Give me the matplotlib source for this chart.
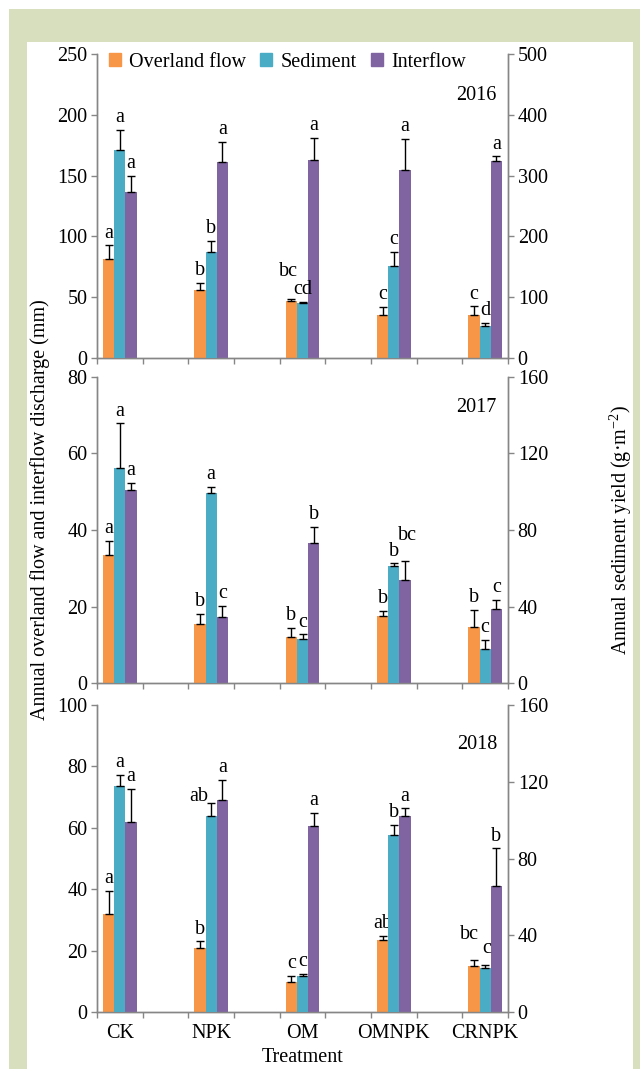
import numpy as np
from matplotlib import pyplot as plt
from matplotlib.patches import Rectangle, Patch

plt.rcParams['font.family'] = ['Liberation Serif', 'DejaVu Serif']
plt.rcParams['mathtext.fontset'] = 'custom'
plt.rcParams['mathtext.rm'] = 'Liberation Serif'
plt.rcParams['mathtext.it'] = 'Liberation Serif:italic'

treatments = ['CK', 'NPK', 'OM', 'OMNPK', 'CRNPK']
years = ['2016', '2017', '2018']

# overland flow (mm), left axis
overland = [[81.6, 55.9, 47.1, 35.6, 35.6],
            [33.4, 15.3, 11.9, 17.5, 14.6],
            [31.8, 20.9, 9.7, 23.4, 14.9]]
overland_err = [[11.0, 6.0, 1.6, 6.6, 6.9],
                [3.7, 2.7, 2.5, 1.3, 4.6],
                [7.6, 2.1, 2.1, 1.5, 2.2]]
# sediment (g m-2), right axis
sediment = [[341.7, 174.1, 90.9, 150.6, 52.6],
            [112.4, 99.4, 23.1, 61.1, 17.8],
            [117.8, 102.2, 19.0, 92.3, 22.9]]
sediment_err = [[34.0, 18.1, 1.7, 23.5, 4.9],
                [23.3, 3.0, 2.3, 1.4, 4.9],
                [5.7, 6.5, 0.7, 5.3, 1.4]]
# interflow (mm), left axis
interflow = [[136.9, 161.0, 163.2, 154.4, 161.6],
             [50.5, 17.3, 36.7, 26.9, 19.4],
             [61.9, 69.1, 60.6, 63.7, 41.0]]
interflow_err = [[12.6, 17.0, 17.5, 25.8, 4.2],
                 [1.9, 2.8, 4.1, 4.9, 2.4],
                 [10.7, 6.6, 4.2, 2.6, 12.3]]

letters_overland = [['a', 'b', 'bc', 'c', 'c'],
                    ['a', 'b', 'b', 'b', 'b'],
                    ['a', 'b', 'c', 'ab', 'bc']]
letters_sediment = [['a', 'b', 'cd', 'c', 'd'],
                    ['a', 'a', 'c', 'b', 'c'],
                    ['a', 'ab', 'c', 'b', 'c']]
letters_interflow = [['a', 'a', 'a', 'a', 'a'],
                     ['a', 'c', 'b', 'bc', 'c'],
                     ['a', 'a', 'a', 'a', 'b']]

left_lim = [250, 80, 100]
left_step = [50, 20, 20]
right_lim = [500, 160, 160]
right_step = [100, 40, 40]

# nudges (points) for crowded letters: (panel, series, group) -> (dx, dy)
nudge = {(0, 0, 2): (-2, 11), (2, 1, 1): (-9, -4), (1, 2, 3): (2, 10),
         (2, 0, 4): (-3, 9), (2, 1, 4): (1, 3)}

c_over = '#F79646'
c_sed = '#4BACC6'
c_int = '#8064A2'
grey = '#868686'
W, H = 640, 1069

fig = plt.figure(figsize=(W / 100, H / 100), dpi=100)
fig.patches.append(Rectangle((9 / W, 0), 1, 1 - 9 / H, transform=fig.transFigure,
                             facecolor='#d8dfbf', edgecolor='none', zorder=-10))
fig.patches.append(Rectangle((27 / W, 0), (633 - 27) / W, 1 - 42 / H, transform=fig.transFigure,
                             facecolor='white', edgecolor='none', zorder=-9))

panels = [(54, 358), (377, 683), (705, 1012)]
x = np.arange(len(treatments)) * 2 + 0.5
bw = 0.245
fs = 14.5

for p, (top, bot) in enumerate(panels):
    ax = fig.add_axes([97 / W, 1 - bot / H, (508 - 97) / W, (bot - top) / H])
    ax2 = ax.twinx()
    ax.patch.set_alpha(0)

    err_kw = dict(ecolor='black', elinewidth=1, capsize=3, capthick=1)
    ov_err = [np.zeros(5), overland_err[p]]
    in_err = [np.zeros(5), interflow_err[p]]
    sd_err = [np.zeros(5), sediment_err[p]]
    ax.bar(x - bw, overland[p], bw, color=c_over, yerr=ov_err, error_kw=err_kw, zorder=3)
    ax.bar(x + bw, interflow[p], bw, color=c_int, yerr=in_err, error_kw=err_kw, zorder=3)
    ax2.bar(x, sediment[p], bw, color=c_sed, yerr=sd_err, error_kw=err_kw, zorder=3)

    series = [(ax, x - bw, overland[p], overland_err[p], letters_overland[p]),
              (ax2, x, sediment[p], sediment_err[p], letters_sediment[p]),
              (ax, x + bw, interflow[p], interflow_err[p], letters_interflow[p])]
    for s, (a, xs, vals, errs, labs) in enumerate(series):
        for g in range(5):
            dx, dy = nudge.get((p, s, g), (0, 0))
            a.annotate(labs[g], (xs[g], vals[g] + errs[g]), xytext=(dx, 2 + dy),
                       textcoords='offset points', ha='center', va='bottom',
                       fontsize=fs, zorder=5)

    ax.set_xlim(0, 9)
    ax.set_ylim(0, left_lim[p])
    ax2.set_ylim(0, right_lim[p])
    ax.set_yticks(np.arange(0, left_lim[p] + 1, left_step[p]))
    ax2.set_yticks(np.arange(0, right_lim[p] + 1, right_step[p]))
    ax.set_xticks(np.arange(0, 10))
    ax.set_xticklabels([])
    ax.set_xticks(x, minor=True)
    if p == 2:
        ax.set_xticklabels(treatments, minor=True)
        ax.set_xlabel('Treatment', fontsize=fs, labelpad=3)
    ax.tick_params(axis='x', which='minor', length=0, labelsize=fs, pad=9)
    for a in (ax, ax2):
        a.tick_params(axis='both', which='major', direction='out', length=4, width=1,
                      color=grey, labelsize=fs, pad=3)
        a.spines['top'].set_visible(False)
        for side in ['left', 'right', 'bottom']:
            a.spines[side].set_color(grey)
            a.spines[side].set_linewidth(1)

    ax.text(0.973, [0.865, 0.9, 0.87][p], years[p], transform=ax.transAxes,
            ha='right', va='center', fontsize=fs)

    if p == 0:
        handles = [Patch(color=c_over), Patch(color=c_sed), Patch(color=c_int)]
        ax.legend(handles, ['Overland flow', 'Sediment', 'Interflow'], loc='upper left',
                  bbox_to_anchor=(0.01, 1.03), ncol=3, frameon=False, fontsize=fs,
                  handlelength=0.6, handleheight=0.6, handletextpad=0.4,
                  columnspacing=0.7, borderaxespad=0)

fig.text(40 / W, 1 - 510 / H, 'Annual overland flow and interflow discharge (mm)',
         rotation=90, ha='center', va='center', fontsize=fs)
fig.text(621 / W, 1 - 530 / H, 'Annual sediment yield (g·m$^{-2}$)',
         rotation=90, ha='center', va='center', fontsize=fs)

fig.savefig('out.png', dpi=100)
